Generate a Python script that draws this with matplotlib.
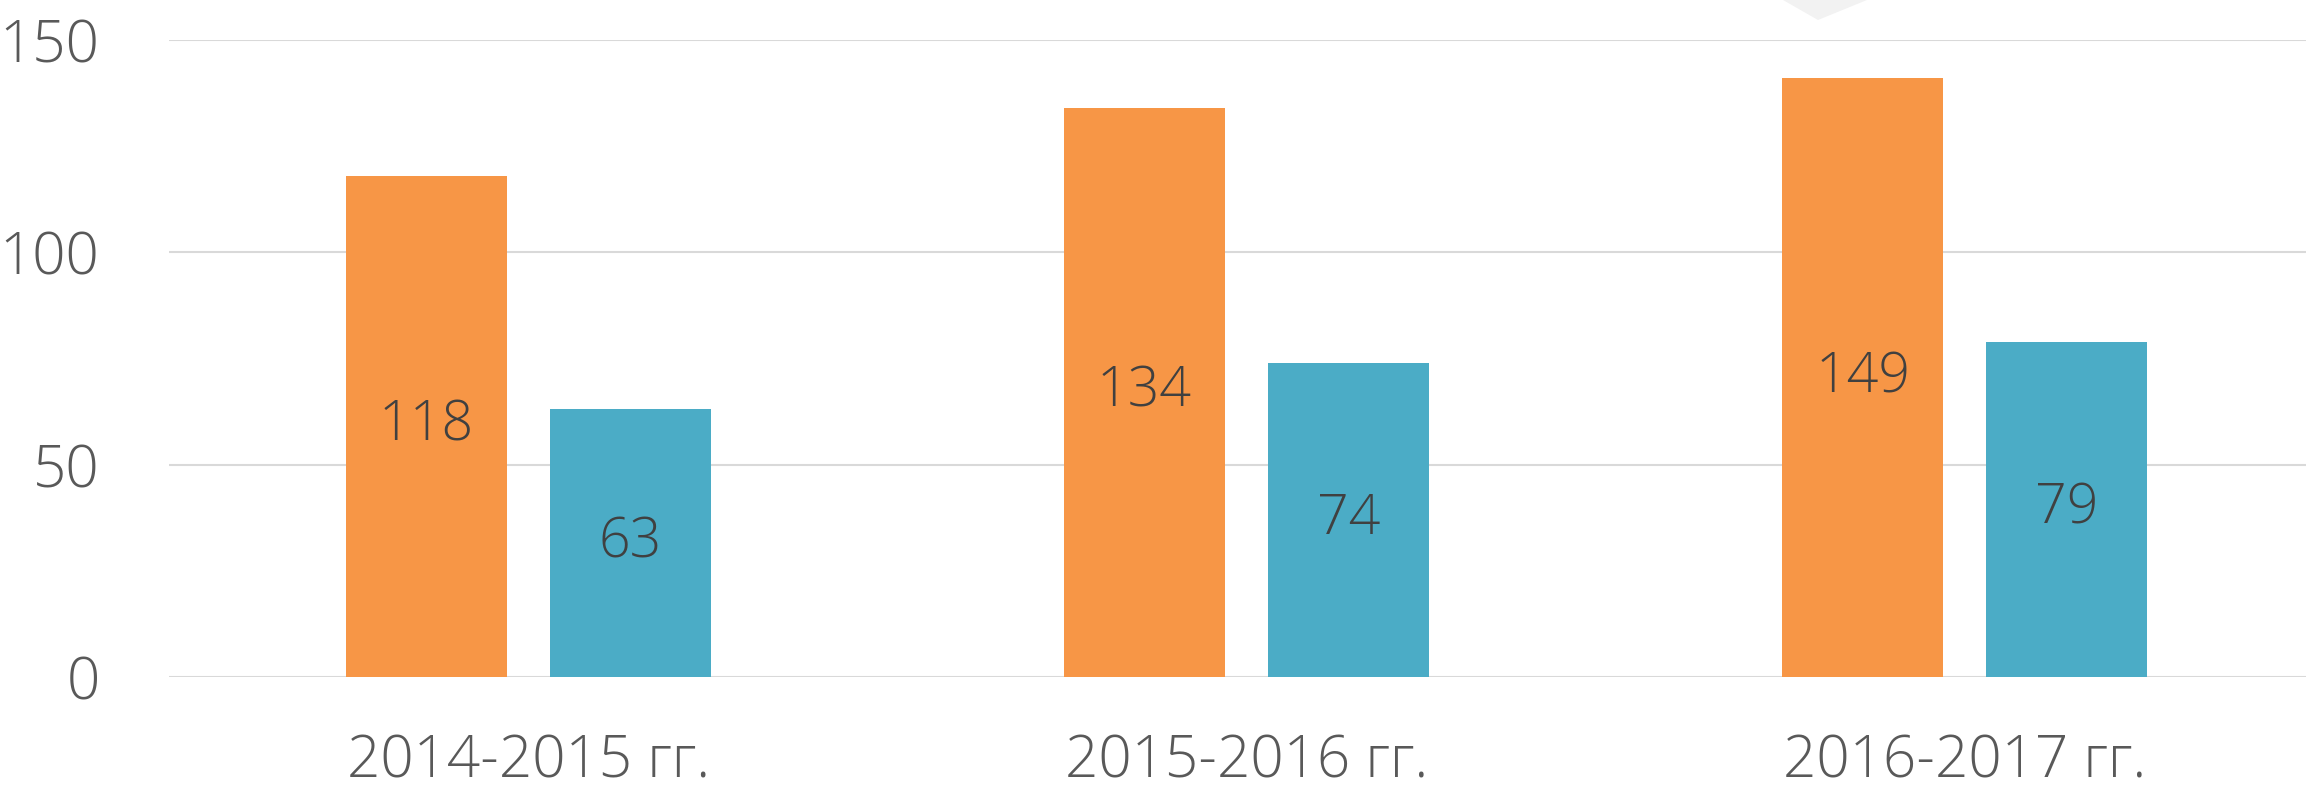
import matplotlib
matplotlib.use("Agg")
import matplotlib.pyplot as plt
from matplotlib.patches import Polygon
import numpy as np

# ======================
# data
# ======================
periods = ["2014-2015 гг.", "2015-2016 гг.", "2016-2017 гг."]
orange_vals = [118, 134, 141]      # bar height as drawn
orange_labels = ["118", "134", "149"]  # label as printed on the bar
blue_vals = [63, 74, 79]
blue_labels = ["63", "74", "79"]
y_ticks = [0, 50, 100, 150]

ORANGE = "#f79646"
BLUE = "#4bacc6"

plt.rcParams["font.family"] = ["Open Sans", "DejaVu Sans"]

W, H = 2306, 798
fig = plt.figure(figsize=(W / 100, H / 100), dpi=100)
ax = fig.add_axes([169 / W, 121 / H, 2155 / W, 637 / H])

x = np.arange(len(periods))
bw = 0.224
off = 0.142

b1 = ax.bar(x - off, orange_vals, bw, color=ORANGE, zorder=3)
b2 = ax.bar(x + off, blue_vals, bw, color=BLUE, zorder=3)

for bars, labels in ((b1, orange_labels), (b2, blue_labels)):
    for rect, lab in zip(bars, labels):
        ax.text(rect.get_x() + rect.get_width() / 2, rect.get_height() / 2, lab,
                ha="center", va="center", fontsize=40, fontweight="light",
                color="#404040", zorder=4)

ax.set_xlim(-0.5, 2.5)
ax.set_ylim(0, 150)
ax.set_yticks(y_ticks)
ax.set_xticks(x)
ax.set_xticklabels(periods)
ax.yaxis.grid(True, color="#d9d9d9", linewidth=1.5, zorder=0)
ax.set_axisbelow(True)
for s in ax.spines.values():
    s.set_visible(False)
ax.tick_params(axis="both", length=0, labelsize=42, labelcolor="#595959")
ax.tick_params(axis="y", pad=50)
ax.tick_params(axis="x", pad=40)
for t in ax.get_xticklabels() + ax.get_yticklabels():
    t.set_fontweight("light")

# light grey chevron peeking in at the top
fig.patches.append(Polygon([(1783 / W, 1.0), (1818 / W, 1 - 20 / H), (1867 / W, 1.0)],
                           closed=True, transform=fig.transFigure,
                           facecolor="#f2f2f2", edgecolor="none"))

fig.savefig("out.png", dpi=100)
